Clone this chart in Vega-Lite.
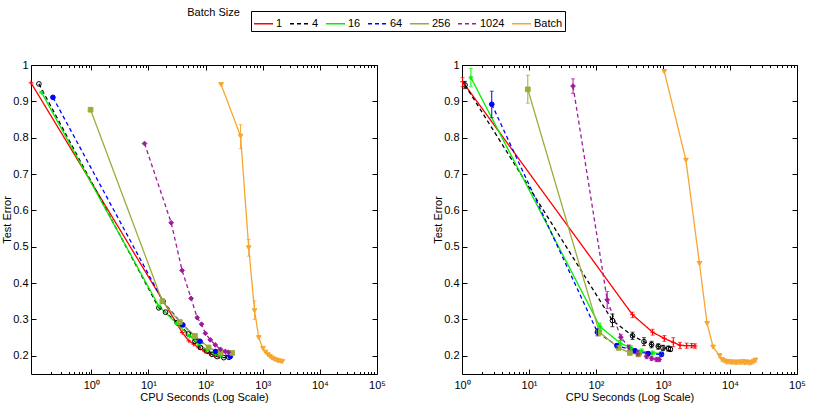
{
  "$schema": "https://vega.github.io/schema/vega-lite/v6.json",
  "padding": {"left": 1, "top": 6, "right": 5, "bottom": 5},
  "background": "white",
  "title": {"text": "Batch Size", "anchor": "start", "orient": "top", "dx": 186, "dy": 11, "fontSize": 11, "fontWeight": "normal", "font": "Liberation Sans", "color": "black"},
  "datasets": {
    "runs": [
      {"panel": "L", "size": "1", "cpu": 0.088, "err": 0.951},
      {"panel": "L", "size": "1", "cpu": 39, "err": 0.264},
      {"panel": "L", "size": "1", "cpu": 51, "err": 0.241},
      {"panel": "L", "size": "1", "cpu": 62, "err": 0.232},
      {"panel": "L", "size": "1", "cpu": 76, "err": 0.222},
      {"panel": "L", "size": "1", "cpu": 95, "err": 0.213},
      {"panel": "L", "size": "1", "cpu": 118, "err": 0.206},
      {"panel": "L", "size": "1", "cpu": 145, "err": 0.201},
      {"panel": "L", "size": "1", "cpu": 175, "err": 0.198},
      {"panel": "L", "size": "4", "cpu": 0.121, "err": 0.948},
      {"panel": "L", "size": "4", "cpu": 15.2, "err": 0.332},
      {"panel": "L", "size": "4", "cpu": 19.9, "err": 0.32},
      {"panel": "L", "size": "4", "cpu": 31.8, "err": 0.291},
      {"panel": "L", "size": "4", "cpu": 50, "err": 0.26},
      {"panel": "L", "size": "4", "cpu": 65, "err": 0.24},
      {"panel": "L", "size": "4", "cpu": 81.5, "err": 0.223},
      {"panel": "L", "size": "4", "cpu": 106, "err": 0.213},
      {"panel": "L", "size": "4", "cpu": 130, "err": 0.204},
      {"panel": "L", "size": "4", "cpu": 159, "err": 0.198},
      {"panel": "L", "size": "4", "cpu": 208, "err": 0.195},
      {"panel": "L", "size": "4", "cpu": 255, "err": 0.196},
      {"panel": "L", "size": "16", "cpu": 0.134, "err": 0.925},
      {"panel": "L", "size": "16", "cpu": 15.2, "err": 0.337},
      {"panel": "L", "size": "16", "cpu": 31, "err": 0.289},
      {"panel": "L", "size": "16", "cpu": 52, "err": 0.255},
      {"panel": "L", "size": "16", "cpu": 76, "err": 0.232},
      {"panel": "L", "size": "16", "cpu": 106, "err": 0.216},
      {"panel": "L", "size": "16", "cpu": 149, "err": 0.205},
      {"panel": "L", "size": "16", "cpu": 183, "err": 0.2},
      {"panel": "L", "size": "64", "cpu": 0.213, "err": 0.911},
      {"panel": "L", "size": "64", "cpu": 18, "err": 0.35},
      {"panel": "L", "size": "64", "cpu": 40, "err": 0.285},
      {"panel": "L", "size": "64", "cpu": 80, "err": 0.24},
      {"panel": "L", "size": "64", "cpu": 150, "err": 0.212},
      {"panel": "L", "size": "64", "cpu": 270, "err": 0.198},
      {"panel": "L", "size": "256", "cpu": 0.97, "err": 0.877},
      {"panel": "L", "size": "256", "cpu": 17.5, "err": 0.35},
      {"panel": "L", "size": "256", "cpu": 35.4, "err": 0.293},
      {"panel": "L", "size": "256", "cpu": 65, "err": 0.255},
      {"panel": "L", "size": "256", "cpu": 113, "err": 0.223},
      {"panel": "L", "size": "256", "cpu": 183, "err": 0.209},
      {"panel": "L", "size": "256", "cpu": 292, "err": 0.208},
      {"panel": "L", "size": "1024", "cpu": 8.55, "err": 0.784},
      {"panel": "L", "size": "1024", "cpu": 25, "err": 0.566},
      {"panel": "L", "size": "1024", "cpu": 38.8, "err": 0.435},
      {"panel": "L", "size": "1024", "cpu": 55.8, "err": 0.358},
      {"panel": "L", "size": "1024", "cpu": 71.2, "err": 0.305},
      {"panel": "L", "size": "1024", "cpu": 85, "err": 0.287},
      {"panel": "L", "size": "1024", "cpu": 99, "err": 0.262},
      {"panel": "L", "size": "1024", "cpu": 121, "err": 0.244},
      {"panel": "L", "size": "1024", "cpu": 148, "err": 0.23},
      {"panel": "L", "size": "1024", "cpu": 182, "err": 0.218},
      {"panel": "L", "size": "1024", "cpu": 222, "err": 0.212},
      {"panel": "L", "size": "1024", "cpu": 250, "err": 0.21},
      {"panel": "L", "size": "Batch", "cpu": 187, "err": 0.946},
      {"panel": "L", "size": "Batch", "cpu": 410, "err": 0.804, "lo": 0.77, "hi": 0.836},
      {"panel": "L", "size": "Batch", "cpu": 569, "err": 0.497, "lo": 0.474, "hi": 0.52},
      {"panel": "L", "size": "Batch", "cpu": 720, "err": 0.324, "lo": 0.3, "hi": 0.351},
      {"panel": "L", "size": "Batch", "cpu": 853, "err": 0.25},
      {"panel": "L", "size": "Batch", "cpu": 1010, "err": 0.22},
      {"panel": "L", "size": "Batch", "cpu": 1120, "err": 0.21},
      {"panel": "L", "size": "Batch", "cpu": 1230, "err": 0.203},
      {"panel": "L", "size": "Batch", "cpu": 1340, "err": 0.198},
      {"panel": "L", "size": "Batch", "cpu": 1450, "err": 0.194},
      {"panel": "L", "size": "Batch", "cpu": 1560, "err": 0.191},
      {"panel": "L", "size": "Batch", "cpu": 1680, "err": 0.189},
      {"panel": "L", "size": "Batch", "cpu": 1800, "err": 0.187},
      {"panel": "L", "size": "Batch", "cpu": 1930, "err": 0.186},
      {"panel": "L", "size": "Batch", "cpu": 2060, "err": 0.185},
      {"panel": "L", "size": "Batch", "cpu": 2200, "err": 0.184},

      {"panel": "R", "size": "1", "cpu": 1.02, "err": 0.954, "lo": 0.94, "hi": 0.965},
      {"panel": "R", "size": "1", "cpu": 351, "err": 0.313, "lo": 0.305, "hi": 0.32},
      {"panel": "R", "size": "1", "cpu": 699, "err": 0.265, "lo": 0.257, "hi": 0.273},
      {"panel": "R", "size": "1", "cpu": 1047, "err": 0.248, "lo": 0.24, "hi": 0.256},
      {"panel": "R", "size": "1", "cpu": 1426, "err": 0.237, "lo": 0.225, "hi": 0.25},
      {"panel": "R", "size": "1", "cpu": 1795, "err": 0.229, "lo": 0.22, "hi": 0.237},
      {"panel": "R", "size": "1", "cpu": 2254, "err": 0.228, "lo": 0.221, "hi": 0.235},
      {"panel": "R", "size": "1", "cpu": 2680, "err": 0.228, "lo": 0.222, "hi": 0.234},
      {"panel": "R", "size": "1", "cpu": 3006, "err": 0.227, "lo": 0.221, "hi": 0.233},
      {"panel": "R", "size": "4", "cpu": 1.11, "err": 0.945, "lo": 0.935, "hi": 0.955},
      {"panel": "R", "size": "4", "cpu": 176, "err": 0.297, "lo": 0.28, "hi": 0.315},
      {"panel": "R", "size": "4", "cpu": 351, "err": 0.255, "lo": 0.245, "hi": 0.265},
      {"panel": "R", "size": "4", "cpu": 520, "err": 0.239, "lo": 0.228, "hi": 0.25},
      {"panel": "R", "size": "4", "cpu": 675, "err": 0.231, "lo": 0.222, "hi": 0.24},
      {"panel": "R", "size": "4", "cpu": 850, "err": 0.226, "lo": 0.218, "hi": 0.233},
      {"panel": "R", "size": "4", "cpu": 1000, "err": 0.222, "lo": 0.215, "hi": 0.229},
      {"panel": "R", "size": "4", "cpu": 1200, "err": 0.22, "lo": 0.213, "hi": 0.227},
      {"panel": "R", "size": "4", "cpu": 1290, "err": 0.218, "lo": 0.212, "hi": 0.225},
      {"panel": "R", "size": "16", "cpu": 1.36, "err": 0.965, "lo": 0.94, "hi": 0.99},
      {"panel": "R", "size": "16", "cpu": 115, "err": 0.28, "lo": 0.27, "hi": 0.29},
      {"panel": "R", "size": "16", "cpu": 230, "err": 0.235, "lo": 0.228, "hi": 0.242},
      {"panel": "R", "size": "16", "cpu": 330, "err": 0.222, "lo": 0.216, "hi": 0.228},
      {"panel": "R", "size": "16", "cpu": 480, "err": 0.213, "lo": 0.207, "hi": 0.219},
      {"panel": "R", "size": "16", "cpu": 700, "err": 0.208, "lo": 0.203, "hi": 0.213},
      {"panel": "R", "size": "16", "cpu": 950, "err": 0.207, "lo": 0.202, "hi": 0.212},
      {"panel": "R", "size": "64", "cpu": 2.78, "err": 0.892, "lo": 0.855, "hi": 0.928},
      {"panel": "R", "size": "64", "cpu": 105, "err": 0.265, "lo": 0.255, "hi": 0.275},
      {"panel": "R", "size": "64", "cpu": 205, "err": 0.228, "lo": 0.222, "hi": 0.234},
      {"panel": "R", "size": "64", "cpu": 380, "err": 0.214, "lo": 0.209, "hi": 0.219},
      {"panel": "R", "size": "64", "cpu": 600, "err": 0.206, "lo": 0.201, "hi": 0.211},
      {"panel": "R", "size": "64", "cpu": 950, "err": 0.204, "lo": 0.199, "hi": 0.209},
      {"panel": "R", "size": "256", "cpu": 9.6, "err": 0.933, "lo": 0.895, "hi": 0.972},
      {"panel": "R", "size": "256", "cpu": 112, "err": 0.265, "lo": 0.255, "hi": 0.275},
      {"panel": "R", "size": "256", "cpu": 218, "err": 0.222, "lo": 0.216, "hi": 0.228},
      {"panel": "R", "size": "256", "cpu": 320, "err": 0.208, "lo": 0.203, "hi": 0.213},
      {"panel": "R", "size": "256", "cpu": 430, "err": 0.204, "lo": 0.199, "hi": 0.209},
      {"panel": "R", "size": "1024", "cpu": 45.4, "err": 0.942, "lo": 0.922, "hi": 0.962},
      {"panel": "R", "size": "1024", "cpu": 147, "err": 0.354, "lo": 0.33, "hi": 0.377},
      {"panel": "R", "size": "1024", "cpu": 235, "err": 0.251, "lo": 0.243, "hi": 0.259},
      {"panel": "R", "size": "1024", "cpu": 312, "err": 0.223, "lo": 0.216, "hi": 0.23},
      {"panel": "R", "size": "1024", "cpu": 424, "err": 0.207, "lo": 0.2, "hi": 0.214},
      {"panel": "R", "size": "1024", "cpu": 570, "err": 0.198, "lo": 0.192, "hi": 0.204},
      {"panel": "R", "size": "1024", "cpu": 675, "err": 0.193, "lo": 0.187, "hi": 0.199},
      {"panel": "R", "size": "1024", "cpu": 800, "err": 0.19, "lo": 0.184, "hi": 0.196},
      {"panel": "R", "size": "1024", "cpu": 880, "err": 0.19, "lo": 0.184, "hi": 0.196},
      {"panel": "R", "size": "Batch", "cpu": 1045, "err": 0.982},
      {"panel": "R", "size": "Batch", "cpu": 2200, "err": 0.738},
      {"panel": "R", "size": "Batch", "cpu": 3500, "err": 0.454},
      {"panel": "R", "size": "Batch", "cpu": 4550, "err": 0.289},
      {"panel": "R", "size": "Batch", "cpu": 5600, "err": 0.224},
      {"panel": "R", "size": "Batch", "cpu": 7000, "err": 0.2, "lo": 0.194, "hi": 0.206},
      {"panel": "R", "size": "Batch", "cpu": 7600, "err": 0.19, "lo": 0.185, "hi": 0.195},
      {"panel": "R", "size": "Batch", "cpu": 8300, "err": 0.186, "lo": 0.181, "hi": 0.191},
      {"panel": "R", "size": "Batch", "cpu": 9000, "err": 0.183, "lo": 0.178, "hi": 0.188},
      {"panel": "R", "size": "Batch", "cpu": 9800, "err": 0.184, "lo": 0.179, "hi": 0.189},
      {"panel": "R", "size": "Batch", "cpu": 10600, "err": 0.182, "lo": 0.177, "hi": 0.187},
      {"panel": "R", "size": "Batch", "cpu": 11500, "err": 0.183, "lo": 0.178, "hi": 0.188},
      {"panel": "R", "size": "Batch", "cpu": 12400, "err": 0.181, "lo": 0.176, "hi": 0.186},
      {"panel": "R", "size": "Batch", "cpu": 13400, "err": 0.183, "lo": 0.178, "hi": 0.188},
      {"panel": "R", "size": "Batch", "cpu": 14500, "err": 0.182, "lo": 0.177, "hi": 0.187},
      {"panel": "R", "size": "Batch", "cpu": 15600, "err": 0.184, "lo": 0.179, "hi": 0.189},
      {"panel": "R", "size": "Batch", "cpu": 16800, "err": 0.181, "lo": 0.176, "hi": 0.186},
      {"panel": "R", "size": "Batch", "cpu": 18000, "err": 0.183, "lo": 0.178, "hi": 0.188},
      {"panel": "R", "size": "Batch", "cpu": 19500, "err": 0.18, "lo": 0.175, "hi": 0.185},
      {"panel": "R", "size": "Batch", "cpu": 21000, "err": 0.182, "lo": 0.177, "hi": 0.187},
      {"panel": "R", "size": "Batch", "cpu": 22500, "err": 0.185, "lo": 0.18, "hi": 0.19},
      {"panel": "R", "size": "Batch", "cpu": 24000, "err": 0.188, "lo": 0.183, "hi": 0.193}
    ]
  },
  "data": {"name": "runs"},
  "spacing": 46,
  "hconcat": [
    {
      "width": 346,
      "height": 309,
      "transform": [{"filter": "datum.panel === 'L'"}],
      "layer": [
        {
          "mark": {"type": "line", "strokeWidth": 1.3},
          "encoding": {
            "x": {"field": "cpu", "type": "quantitative",
              "scale": {"type": "log", "domain": [0.088, 100000], "nice": false},
              "axis": {"orient": "bottom", "values": [1, 10, 100, 1000, 10000, 100000],
                "labelExpr": "datum.value == 1 ? '10⁰' : datum.value == 10 ? '10¹' : datum.value == 100 ? '10²' : datum.value == 1000 ? '10³' : datum.value == 10000 ? '10⁴' : datum.value == 100000 ? '10⁵' : ''",
                "tickSize": -5, "labelPadding": 10, "title": "CPU Seconds (Log Scale)", "titlePadding": 1}},
            "y": {"field": "err", "type": "quantitative",
              "scale": {"domain": [0.15, 1], "nice": false, "zero": false},
              "axis": {"orient": "left", "values": [0.2, 0.3, 0.4, 0.5, 0.6, 0.7, 0.8, 0.9, 1], "format": ".1~f",
                "tickSize": -5, "labelPadding": 8, "title": "Test Error", "titlePadding": 0}},
            "color": {"field": "size", "type": "nominal",
              "scale": {"domain": ["1", "4", "16", "64", "256", "1024", "Batch"],
                "range": ["#ff0000", "#000000", "#00f000", "#0000ff", "#9aad3a", "#a01a9c", "#f5a731"]},
              "legend": {
                "title": null,
                "orient": "none", "legendX": 220, "legendY": -54, "direction": "horizontal",
                "strokeColor": "black", "padding": 2,
                "symbolType": "stroke", "symbolSize": 361, "symbolStrokeWidth": 1.3,
                "labelOffset": 2, "columnPadding": 4, "rowPadding": 0,
                "labelFontSize": 11
              }},
            "strokeDash": {"field": "size", "type": "nominal",
              "scale": {"domain": ["1", "4", "16", "64", "256", "1024", "Batch"],
                "range": [[1, 0], [4, 3], [1, 0], [4, 3], [1, 0], [4, 3], [1, 0]]},
              "legend": {"title": null}}
          }
        },
        {
          "mark": {"type": "point", "filled": false, "strokeWidth": 1, "size": 22, "opacity": 1},
          "encoding": {
            "x": {"field": "cpu", "type": "quantitative",
              "axis": {"orient": "top", "values": [1, 10, 100, 1000, 10000, 100000], "labels": false, "tickSize": -5, "title": null}},
            "y": {"field": "err", "type": "quantitative",
              "axis": {"orient": "right", "values": [0.2, 0.3, 0.4, 0.5, 0.6, 0.7, 0.8, 0.9, 1], "labels": false, "tickSize": -5, "title": null}},
            "color": {"field": "size", "type": "nominal"},
            "fill": {"condition": [
                {"test": "datum.size === '1'", "value": "#ff0000"},
                {"test": "datum.size === '4'", "value": "transparent"},
                {"test": "datum.size === '16'", "value": "#00f000"},
                {"test": "datum.size === '64'", "value": "#0000ff"},
                {"test": "datum.size === '256'", "value": "#9aad3a"},
                {"test": "datum.size === '1024'", "value": "#a01a9c"}
              ], "value": "#f5a731"},
            "shape": {"condition": [
                {"test": "datum.size === '1'", "value": "M-1,0L1,0M0,-1L0,1"},
                {"test": "datum.size === '4'", "value": "circle"},
                {"test": "datum.size === '16'", "value": "M-1,0L1,0M0,-1L0,1M-0.7,-0.7L0.7,0.7M-0.7,0.7L0.7,-0.7"},
                {"test": "datum.size === '64'", "value": "circle"},
                {"test": "datum.size === '256'", "value": "square"},
                {"test": "datum.size === '1024'", "value": "diamond"}
              ], "value": "triangle-down"}
          }
        },
        {
          "transform": [{"filter": "isValid(datum.lo)"}],
          "mark": {"type": "errorbar", "ticks": {"size": 4}, "thickness": 1},
          "encoding": {
            "x": {"field": "cpu", "type": "quantitative", "axis": null},
            "y": {"field": "lo", "type": "quantitative", "axis": null},
            "y2": {"field": "hi"},
            "color": {"field": "size", "type": "nominal"}
          }
        },
        {
          "mark": {"type": "point", "opacity": 0},
          "encoding": {
            "x": {"field": "cpu", "type": "quantitative",
              "axis": {"orient": "bottom", "values": [0.2, 0.3, 0.4, 0.5, 0.6, 0.7, 0.8, 0.9, 2, 3, 4, 5, 6, 7, 8, 9, 20, 30, 40, 50, 60, 70, 80, 90, 200, 300, 400, 500, 600, 700, 800, 900, 2000, 3000, 4000, 5000, 6000, 7000, 8000, 9000, 20000, 30000, 40000, 50000, 60000, 70000, 80000, 90000], "labels": false, "tickSize": -2.5, "title": null}},
            "y": {"field": "err", "type": "quantitative", "axis": null}
          }
        },
        {
          "mark": {"type": "point", "opacity": 0},
          "encoding": {
            "x": {"field": "cpu", "type": "quantitative",
              "axis": {"orient": "top", "values": [0.2, 0.3, 0.4, 0.5, 0.6, 0.7, 0.8, 0.9, 2, 3, 4, 5, 6, 7, 8, 9, 20, 30, 40, 50, 60, 70, 80, 90, 200, 300, 400, 500, 600, 700, 800, 900, 2000, 3000, 4000, 5000, 6000, 7000, 8000, 9000, 20000, 30000, 40000, 50000, 60000, 70000, 80000, 90000], "labels": false, "tickSize": -2.5, "title": null}},
            "y": {"field": "err", "type": "quantitative", "axis": null}
          }
        }
      ],
      "resolve": {"axis": {"x": "independent", "y": "independent"}}
    },
    {
      "width": 335,
      "height": 309,
      "transform": [{"filter": "datum.panel === 'R'"}],
      "layer": [
        {
          "mark": {"type": "line", "strokeWidth": 1.3},
          "encoding": {
            "x": {"field": "cpu", "type": "quantitative",
              "scale": {"type": "log", "domain": [1, 100000], "nice": false},
              "axis": {"orient": "bottom", "values": [1, 10, 100, 1000, 10000, 100000],
                "labelExpr": "datum.value == 1 ? '10⁰' : datum.value == 10 ? '10¹' : datum.value == 100 ? '10²' : datum.value == 1000 ? '10³' : datum.value == 10000 ? '10⁴' : datum.value == 100000 ? '10⁵' : ''",
                "tickSize": -5, "labelPadding": 10, "title": "CPU Seconds (Log Scale)", "titlePadding": 1}},
            "y": {"field": "err", "type": "quantitative",
              "scale": {"domain": [0.15, 1], "nice": false, "zero": false},
              "axis": {"orient": "left", "values": [0.2, 0.3, 0.4, 0.5, 0.6, 0.7, 0.8, 0.9, 1], "format": ".1~f",
                "tickSize": -5, "labelPadding": 8, "title": "Test Error", "titlePadding": 0}},
            "color": {"field": "size", "type": "nominal"},
            "strokeDash": {"field": "size", "type": "nominal",
              "scale": {"domain": ["1", "4", "16", "64", "256", "1024", "Batch"],
                "range": [[1, 0], [4, 3], [1, 0], [4, 3], [1, 0], [4, 3], [1, 0]]}}
          }
        },
        {
          "mark": {"type": "point", "filled": false, "strokeWidth": 1, "size": 22, "opacity": 1},
          "encoding": {
            "x": {"field": "cpu", "type": "quantitative",
              "axis": {"orient": "top", "values": [1, 10, 100, 1000, 10000, 100000], "labels": false, "tickSize": -5, "title": null}},
            "y": {"field": "err", "type": "quantitative",
              "axis": {"orient": "right", "values": [0.2, 0.3, 0.4, 0.5, 0.6, 0.7, 0.8, 0.9, 1], "labels": false, "tickSize": -5, "title": null}},
            "color": {"field": "size", "type": "nominal"},
            "fill": {"condition": [
                {"test": "datum.size === '1'", "value": "#ff0000"},
                {"test": "datum.size === '4'", "value": "transparent"},
                {"test": "datum.size === '16'", "value": "#00f000"},
                {"test": "datum.size === '64'", "value": "#0000ff"},
                {"test": "datum.size === '256'", "value": "#9aad3a"},
                {"test": "datum.size === '1024'", "value": "#a01a9c"}
              ], "value": "#f5a731"},
            "shape": {"condition": [
                {"test": "datum.size === '1'", "value": "M-1,0L1,0M0,-1L0,1"},
                {"test": "datum.size === '4'", "value": "circle"},
                {"test": "datum.size === '16'", "value": "M-1,0L1,0M0,-1L0,1M-0.7,-0.7L0.7,0.7M-0.7,0.7L0.7,-0.7"},
                {"test": "datum.size === '64'", "value": "circle"},
                {"test": "datum.size === '256'", "value": "square"},
                {"test": "datum.size === '1024'", "value": "diamond"}
              ], "value": "triangle-down"}
          }
        },
        {
          "transform": [{"filter": "isValid(datum.lo)"}],
          "mark": {"type": "errorbar", "ticks": {"size": 4}, "thickness": 1},
          "encoding": {
            "x": {"field": "cpu", "type": "quantitative", "axis": null},
            "y": {"field": "lo", "type": "quantitative", "axis": null},
            "y2": {"field": "hi"},
            "color": {"field": "size", "type": "nominal"}
          }
        },
        {
          "mark": {"type": "point", "opacity": 0},
          "encoding": {
            "x": {"field": "cpu", "type": "quantitative",
              "axis": {"orient": "bottom", "values": [2, 3, 4, 5, 6, 7, 8, 9, 20, 30, 40, 50, 60, 70, 80, 90, 200, 300, 400, 500, 600, 700, 800, 900, 2000, 3000, 4000, 5000, 6000, 7000, 8000, 9000, 20000, 30000, 40000, 50000, 60000, 70000, 80000, 90000], "labels": false, "tickSize": -2.5, "title": null}},
            "y": {"field": "err", "type": "quantitative", "axis": null}
          }
        },
        {
          "mark": {"type": "point", "opacity": 0},
          "encoding": {
            "x": {"field": "cpu", "type": "quantitative",
              "axis": {"orient": "top", "values": [2, 3, 4, 5, 6, 7, 8, 9, 20, 30, 40, 50, 60, 70, 80, 90, 200, 300, 400, 500, 600, 700, 800, 900, 2000, 3000, 4000, 5000, 6000, 7000, 8000, 9000, 20000, 30000, 40000, 50000, 60000, 70000, 80000, 90000], "labels": false, "tickSize": -2.5, "title": null}},
            "y": {"field": "err", "type": "quantitative", "axis": null}
          }
        }
      ],
      "resolve": {"axis": {"x": "independent", "y": "independent"}}
    }
  ],
  "config": {
    "font": "Liberation Sans",
    "view": {"stroke": "black", "strokeWidth": 1},
    "axis": {
      "grid": false, "domain": false, "tickColor": "black", "tickWidth": 1,
      "labelFont": "Liberation Sans", "labelFontSize": 11, "labelColor": "black",
      "titleFont": "Liberation Sans", "titleFontSize": 11, "titleFontWeight": "normal", "titleColor": "black",
      "labelFlush": false, "labelOverlap": false
    },
    "legend": {"labelFont": "Liberation Sans", "titleFont": "Liberation Sans", "labelColor": "black", "titleColor": "black"}
  }
}
